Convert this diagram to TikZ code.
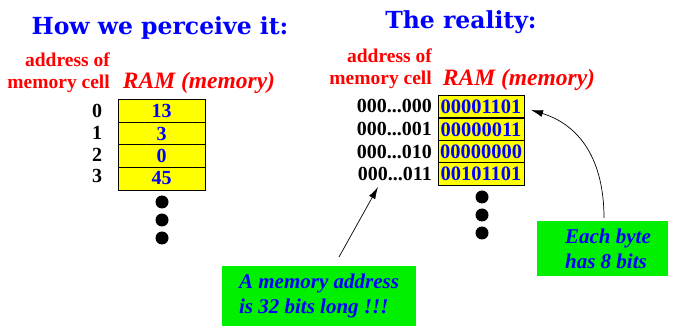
\documentclass[tikz,border=0pt]{standalone}
\usepackage{fontspec}
\setmainfont{Liberation Serif}
\newfontfamily\titlefont{DejaVu Serif}
\usetikzlibrary{arrows.meta}
\definecolor{tblue}{RGB}{0,0,255}
\definecolor{tred}{RGB}{255,0,0}
\definecolor{tgreen}{RGB}{0,240,0}
\definecolor{tyellow}{RGB}{255,255,0}
\begin{document}
\begin{tikzpicture}[x=1pt,y=-1pt,
  title/.style={font=\titlefont\fontsize{23.5}{23.5}\selectfont\bfseries, text=tblue, inner sep=0pt},
  lbl/.style={font=\rmfamily\fontsize{19.5}{22}\selectfont\bfseries, text=tred, inner sep=0pt, align=right},
  ram/.style={font=\rmfamily\fontsize{23.5}{24}\selectfont\bfseries\itshape, text=tred, inner sep=0pt},
  cell/.style={draw=black, line width=0.9pt, fill=tyellow, minimum width=87pt, minimum height=22.5pt, inner sep=0pt, text=tblue, font=\rmfamily\fontsize{20}{20}\selectfont\bfseries},
  bcell/.style={cell, minimum width=86pt, font=\rmfamily\fontsize{20.5}{20}\selectfont\bfseries},
  addr/.style={font=\rmfamily\fontsize{20}{19}\selectfont\bfseries, inner sep=0pt},
  dot/.style={circle, fill=black, minimum size=13pt, inner sep=0pt},
  note/.style={fill=tgreen, text=tblue, font=\rmfamily\fontsize{21}{25}\selectfont\bfseries\itshape, align=left, inner sep=0pt},
  arr/.style={line width=0.7pt, -{Latex[length=12pt,width=7pt]}}
]
\useasboundingbox (0,0) rectangle (679,336);
% titles
\node[title] (t1) at (160,28) {How we perceive it:};
\node[title] (t2) at (461,22) {The reality:};
% left headings
\node[lbl, anchor=east] (la) at (110,73) {address of\\memory cell};
\node[ram] (lr) at (199,83) {RAM (memory)};
% left table
\node[cell] (c0) at (161.5,111) {13};
\node[cell] (c1) at (161.5,133.5) {3};
\node[cell] (c2) at (161.5,156) {0};
\node[cell, minimum height=23pt] (c3) at (161.5,178.5) {45};
\node[addr] (a0) at (97,111) {0};
\node[addr] (a1) at (97,133) {1};
\node[addr] (a2) at (97,155) {2};
\node[addr] (a3) at (97,176) {3};
\node[dot] (d0) at (162,202) {};
\node[dot] (d1) at (162,220) {};
\node[dot] (d2) at (162,238) {};
% right headings
\node[lbl, anchor=east] (ra) at (432,69) {address of\\memory cell};
\node[ram] (rr) at (519,80) {RAM (memory)};
% right table
\node[bcell] (b0) at (481,106.5) {00001101};
\node[bcell] (b1) at (481,129.5) {00000011};
\node[bcell] (b2) at (481,152) {00000000};
\node[bcell] (b3) at (481,174) {00101101};
\node[addr, anchor=east] (e0) at (432,106) {000...000};
\node[addr, anchor=east] (e1) at (432,129) {000...001};
\node[addr, anchor=east] (e2) at (432,152) {000...010};
\node[addr, anchor=east] (e3) at (432,174) {000...011};
\node[dot] (f0) at (482,197) {};
\node[dot] (f1) at (482,215) {};
\node[dot] (f2) at (482,233) {};
% notes
\node[note, minimum width=194pt, minimum height=60pt] (n1) at (319,296) {A memory address\\is 32 bits long !!!};
\node[note, minimum width=131pt, minimum height=55pt] (n2) at (602.5,248.5) {\hspace*{11pt}Each byte\\\hspace*{11pt}has 8 bits};
% arrows
\coordinate (s1) at (339,257);
\coordinate (p1) at (378,187);
\coordinate (s2) at (604,218);
\coordinate (p2) at (531,110);
\draw[arr] (s1) -- (p1);
\draw[arr] (s2) .. controls (604,160) and (580,125) .. (p2);
\end{tikzpicture}
\end{document}
